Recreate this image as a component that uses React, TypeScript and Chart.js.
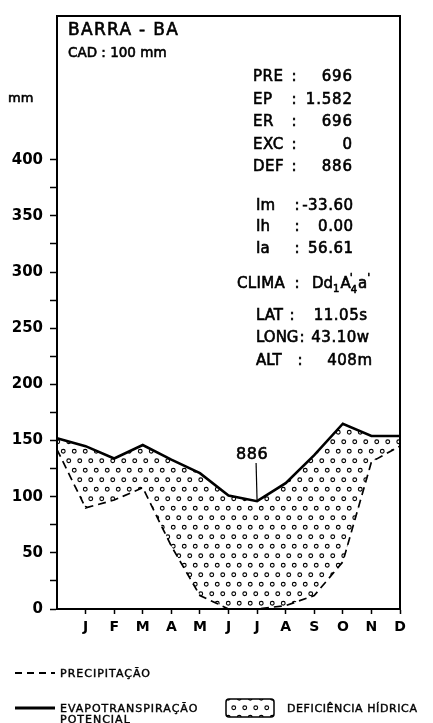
import React, { useEffect, useRef } from "react";
import { Chart, registerables } from "chart.js";

Chart.register(...registerables);

// ---- data ----
const monthLabels = ["", "J", "F", "M", "A", "M", "J", "J", "A", "S", "O", "N", "D"];
const precipitation = [142, 90, 97, 108, 56, 12, 0, 0, 3, 12, 42, 131, 145];
const potentialEvapotranspiration = [152, 145, 134, 146, 133, 121, 101, 96, 112, 137, 165, 154, 154];
const yTickLabels = [0, 50, 100, 150, 200, 250, 300, 350, 400];
const yMax = 528;

const stationTitle = "BARRA - BA";
const cadText = "CAD : 100 mm";
const unitText = "mm";
const balanceLabels = ["PRE", "EP", "ER", "EXC", "DEF"];
const balanceValues = ["696", "1.582", "696", "0", "886"];
const indexLabels = ["Im", "Ih", "Ia"];
const indexValues = ["-33.60", "0.00", "56.61"];
const locationLabels = ["LAT", "LONG", "ALT"];
const locationValues = ["11.05s", "43.10w", "408m"];
const deficitLabel = "886";
const deficitMonthIndex = 7;
const legendPrecip = "PRECIPITAÇÃO";
const legendEvapo = ["EVAPOTRANSPIRAÇÃO", "POTENCIAL"];
const legendDeficit = "DEFICIÊNCIA HÍDRICA";

const FONT = '"DejaVu Sans", "Liberation Sans", sans-serif';
const INK = "#000";

function makeDotPattern(ctx: CanvasRenderingContext2D) {
  const c = document.createElement("canvas");
  c.width = 11;
  c.height = 19;
  const g = c.getContext("2d")!;
  g.strokeStyle = INK;
  g.lineWidth = 1.1;
  const pts = [
    [2.75, 4.75],
    [8.25, 14.25],
  ];
  for (const [x, y] of pts) {
    g.beginPath();
    g.arc(x, y, 1.9, 0, Math.PI * 2);
    g.stroke();
  }
  return ctx.createPattern(c, "repeat");
}

function txt(
  ctx: CanvasRenderingContext2D,
  s: string,
  x: number,
  centerY: number,
  size: number,
  align: CanvasTextAlign = "left",
  spacing = 0,
  boldness = 0.6
) {
  ctx.font = `normal ${size}px ${FONT}`;
  (ctx as any).letterSpacing = spacing + "px";
  ctx.textAlign = align;
  ctx.textBaseline = "alphabetic";
  ctx.fillStyle = INK;
  ctx.strokeStyle = INK;
  let dx = 0;
  if (align === "right") dx = spacing;
  const y = centerY + size * 0.365;
  ctx.fillText(s, x + dx, y);
  if (boldness > 0) {
    ctx.lineWidth = boldness;
    ctx.strokeText(s, x + dx, y);
  }
  (ctx as any).letterSpacing = "0px";
}

const annotationPlugin = {
  id: "climateAnnotations",
  afterDraw(chart: any) {
    const ctx: CanvasRenderingContext2D = chart.ctx;
    const { left, right, top, bottom } = chart.chartArea;
    const xs = chart.scales.x;
    const ys = chart.scales.y;
    ctx.save();

    // frame: top and right
    ctx.strokeStyle = INK;
    ctx.lineWidth = 2;
    ctx.beginPath();
    ctx.moveTo(left - 1, top);
    ctx.lineTo(right, top);
    ctx.lineTo(right, bottom + 1);
    ctx.stroke();

    // unit
    txt(ctx, unitText, 8, 97, 13);

    // title block
    txt(ctx, stationTitle, 68, 29, 17, "left", 1.3);
    txt(ctx, cadText, 68, 52, 13.5, "left", 0);

    const balanceY = [76, 98.5, 120.5, 144, 166];
    balanceLabels.forEach((l, i) => {
      txt(ctx, l, 253, balanceY[i], 15, "left", 0.5);
      txt(ctx, ":", 294, balanceY[i], 15, "center");
      txt(ctx, balanceValues[i], 352, balanceY[i], 15, "right", 0.8);
    });

    const indexY = [205, 226, 248];
    indexLabels.forEach((l, i) => {
      txt(ctx, l, 256, indexY[i], 15, "left");
      txt(ctx, ":", 297, indexY[i], 15, "center");
      txt(ctx, indexValues[i], 353, indexY[i], 15, "right", 0.5);
    });

    // CLIMA
    const cy = 283;
    txt(ctx, "CLIMA", 237, cy, 15, "left", 0.3);
    txt(ctx, ":", 297, cy, 15, "center");
    const base = cy + 15 * 0.365;
    ctx.textAlign = "left";
    ctx.textBaseline = "alphabetic";
    ctx.lineWidth = 0.6;
    const piece = (s: string, x: number, y: number, size: number) => {
      ctx.font = `normal ${size}px ${FONT}`;
      ctx.fillText(s, x, y);
      ctx.strokeText(s, x, y);
      return ctx.measureText(s).width;
    };
    let cx = 312;
    cx += piece("Dd", cx, base, 15);
    cx += piece("1", cx, base + 4, 10) + 1;
    cx += piece("A", cx, base, 15);
    piece("'", cx - 1, base - 7, 11);
    cx += piece("4", cx, base + 5, 10) + 1;
    cx += piece("a", cx, base, 15);
    piece("'", cx, base - 7, 11);

    const locY = [315, 337, 360];
    const locColon = [292, 302, 300];
    const locRight = [367, 369, 372];
    locationLabels.forEach((l, i) => {
      txt(ctx, l, 256, locY[i], 15, "left", 0);
      txt(ctx, ":", locColon[i], locY[i], 15, "center");
      txt(ctx, locationValues[i], locRight[i], locY[i], 15, "right", 0.5);
    });

    // deficit total label with leader
    const px = xs.getPixelForValue(deficitMonthIndex);
    const py = ys.getPixelForValue(potentialEvapotranspiration[deficitMonthIndex]);
    txt(ctx, deficitLabel, px - 5, 453, 16, "center", 0.5);
    ctx.lineWidth = 1.2;
    ctx.beginPath();
    ctx.moveTo(px - 1, 463);
    ctx.lineTo(px, py);
    ctx.stroke();

    // legend
    ctx.lineWidth = 2;
    ctx.setLineDash([7, 5]);
    ctx.beginPath();
    ctx.moveTo(15, 673);
    ctx.lineTo(55, 673);
    ctx.stroke();
    ctx.setLineDash([]);
    txt(ctx, legendPrecip, 60, 673, 11, "left", 1, 0.4);

    ctx.lineWidth = 3;
    ctx.beginPath();
    ctx.moveTo(15, 708);
    ctx.lineTo(55, 708);
    ctx.stroke();
    txt(ctx, legendEvapo[0], 60, 708, 11, "left", 1, 0.4);
    txt(ctx, legendEvapo[1], 60, 719, 11, "left", 1, 0.4);

    // pattern box
    const pat = makeDotPattern(ctx);
    ctx.lineWidth = 1.5;
    ctx.beginPath();
    (ctx as any).roundRect(226, 699, 48, 18, 3);
    if (pat) {
      ctx.fillStyle = pat as any;
      ctx.fill();
    }
    ctx.stroke();
    txt(ctx, legendDeficit, 287, 708, 11, "left", 0.6, 0.4);

    ctx.restore();
  },
};

export default function App() {
  const ref = useRef<HTMLCanvasElement | null>(null);
  useEffect(() => {
    const canvas = ref.current!;
    const ctx = canvas.getContext("2d")!;
    const pattern = makeDotPattern(ctx);
    const chart = new Chart(canvas, {
      type: "line",
      data: {
        labels: monthLabels,
        datasets: [
          {
            label: "EP",
            data: potentialEvapotranspiration,
            borderColor: INK,
            borderWidth: 2.6,
            pointRadius: 0,
            tension: 0,
            fill: "+1",
            backgroundColor: pattern as any,
          },
          {
            label: "PRE",
            data: precipitation,
            borderColor: INK,
            borderWidth: 1.7,
            borderDash: [8, 5],
            pointRadius: 0,
            tension: 0,
            fill: false,
          },
        ],
      },
      options: {
        responsive: false,
        animation: false,
        layout: { padding: { left: 0, right: 33, top: 14, bottom: 0 } },
        plugins: {
          legend: { display: false },
          tooltip: { enabled: false },
          title: { display: false },
        },
        scales: {
          x: {
            type: "category",
            offset: false,
            grid: {
              drawOnChartArea: false,
              drawTicks: true,
              tickLength: 5,
              tickWidth: 1.5,
              tickColor: (c: any) => (c.index === 0 ? "rgba(0,0,0,0)" : INK),
            },
            border: { display: true, color: INK, width: 2 },
            ticks: {
              autoSkip: false,
              maxRotation: 0,
              padding: 5,
              color: INK,
              font: { family: FONT, size: 14, weight: "bold" },
            },
            afterFit: (s: any) => {
              s.height = 114;
            },
          },
          y: {
            type: "linear",
            min: 0,
            max: yMax,
            grid: {
              drawOnChartArea: false,
              drawTicks: true,
              tickLength: 7,
              tickWidth: 1.5,
              tickColor: (c: any) => (c.tick && c.tick.value > 400 ? "rgba(0,0,0,0)" : INK),
            },
            border: { display: true, color: INK, width: 2 },
            ticks: {
              stepSize: 25,
              includeBounds: false,
              padding: 7,
              color: INK,
              font: { family: FONT, size: 15, weight: "bold" },
              callback: (v: any) => (yTickLabels.includes(Number(v)) ? String(v) : ""),
            },
            afterFit: (s: any) => {
              s.width = 57;
            },
          },
        },
      },
      plugins: [annotationPlugin],
    });
    return () => chart.destroy();
  }, []);

  return (
    <div style={{ position: "absolute", left: 0, top: 0, width: 433, height: 723, background: "#fff" }}>
      <canvas ref={ref} width={433} height={723} style={{ display: "block", width: 433, height: 723 }} />
    </div>
  );
}
